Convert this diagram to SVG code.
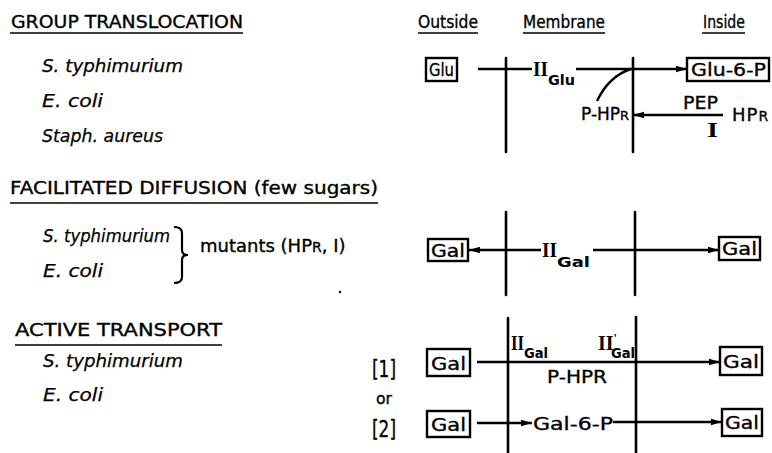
<svg xmlns="http://www.w3.org/2000/svg" width="772" height="453" viewBox="0 0 772 453">
<defs>
<marker id="ah" markerUnits="userSpaceOnUse" markerWidth="12" markerHeight="8" refX="11" refY="4" orient="auto">
<path d="M0,0.8 L11,4 L0,7.2 z" fill="#000"/>
</marker>
<style>
.t{font-family:"DejaVu Sans","Liberation Sans",sans-serif;fill:#000;stroke:#000;stroke-width:0.35}
.h{font-size:18px}
.sp{font-size:17px;font-style:italic;stroke-width:0.25}
.lb{font-size:18px}
.sub{font-size:14px;font-weight:bold;stroke-width:0}
.rn{font-family:"Liberation Serif","DejaVu Serif",serif;font-weight:bold;font-size:20px;fill:#000}
.ul{stroke:#000;stroke-width:1.6;fill:none}
.box{fill:#fff;stroke:#000;stroke-width:2.4}
.mem{stroke:#000;stroke-width:2.6;fill:none;stroke-linecap:round}
.c{stroke:#000;stroke-width:2.4;fill:none}
.ca{stroke:#000;stroke-width:2.4;fill:none;marker-end:url(#ah)}
</style>
</defs>
<rect width="772" height="453" fill="#fff"/>

<!-- left column text -->
<g id="sec-group">
<text class="t h" x="11" y="28" textLength="232" lengthAdjust="spacingAndGlyphs">GROUP  TRANSLOCATION</text>
<line class="ul" x1="10" y1="33" x2="243" y2="33"/>
<text class="t sp" x="42" y="72" textLength="141" lengthAdjust="spacingAndGlyphs">S. typhimurium</text>
<text class="t sp" x="42" y="107" textLength="61" lengthAdjust="spacingAndGlyphs">E. coli</text>
<text class="t sp" x="42" y="142" textLength="121" lengthAdjust="spacingAndGlyphs">Staph. aureus</text>
</g>
<g id="sec-facilitated">
<text class="t h" x="10" y="194" textLength="368" lengthAdjust="spacingAndGlyphs">FACILITATED  DIFFUSION (few sugars)</text>
<line class="ul" x1="10" y1="203" x2="378" y2="203"/>
<text class="t sp" x="43" y="242" textLength="127" lengthAdjust="spacingAndGlyphs">S. typhimurium</text>
<text class="t sp" x="43" y="277" textLength="60" lengthAdjust="spacingAndGlyphs">E. coli</text>
<path d="M174,227 Q182,227 182,233 L182,250 Q182,255 188,255 Q182,255 182,260 L182,277 Q182,283 174,283" fill="none" stroke="#000" stroke-width="2.2"/>
<text class="t lb" x="200" y="252">mutants (HP<tspan font-size="14">R</tspan>, I)</text>
<circle cx="340" cy="292" r="1.2" fill="#000"/>
</g>
<g id="sec-active">
<text class="t h" x="15" y="336" textLength="207" lengthAdjust="spacingAndGlyphs">ACTIVE  TRANSPORT</text>
<line class="ul" x1="15" y1="345" x2="222" y2="345"/>
<text class="t sp" x="43" y="367" textLength="140" lengthAdjust="spacingAndGlyphs">S. typhimurium</text>
<text class="t sp" x="43" y="401" textLength="60" lengthAdjust="spacingAndGlyphs">E. coli</text>
<text class="t" font-size="23" x="372" y="377" textLength="24" lengthAdjust="spacingAndGlyphs" stroke-width="0.8">[1]</text>
<text class="t" font-size="16" x="376" y="404" textLength="16" lengthAdjust="spacingAndGlyphs">or</text>
<text class="t" font-size="23" x="372" y="437" textLength="24" lengthAdjust="spacingAndGlyphs" stroke-width="0.8">[2]</text>
</g>

<!-- column headers -->
<g id="headers">
<text class="t h" x="418" y="28" textLength="60" lengthAdjust="spacingAndGlyphs">Outside</text>
<line class="ul" x1="418" y1="33" x2="478" y2="33"/>
<text class="t h" x="523" y="28" textLength="82" lengthAdjust="spacingAndGlyphs">Membrane</text>
<line class="ul" x1="523" y1="33" x2="605" y2="33"/>
<text class="t h" x="703" y="28" textLength="42" lengthAdjust="spacingAndGlyphs">Inside</text>
<line class="ul" x1="702" y1="33" x2="745" y2="33"/>
</g>

<!-- membranes -->
<g id="membranes">
<line class="mem" x1="506" y1="58" x2="506" y2="152"/>
<line class="mem" x1="633" y1="58" x2="633" y2="152"/>
<line class="mem" x1="506" y1="212" x2="506" y2="295"/>
<line class="mem" x1="635" y1="212" x2="635" y2="295"/>
<line class="mem" x1="508" y1="318" x2="508" y2="453"/>
<line class="mem" x1="636" y1="317" x2="636" y2="453"/>
</g>

<!-- nodes -->
<g id="glu">
<rect class="box" x="426" y="58" width="31" height="23"/>
<text class="t lb" x="429" y="76" textLength="25" lengthAdjust="spacingAndGlyphs">Glu</text>
</g>
<g id="glu6p">
<rect class="box" x="687" y="58" width="82" height="23"/>
<text class="t lb" x="691" y="76" textLength="75" lengthAdjust="spacingAndGlyphs">Glu-6-P</text>
</g>
<g id="iiglu">
<text class="rn" x="533" y="76" textLength="15" lengthAdjust="spacingAndGlyphs">II</text>
<text class="t sub" x="548" y="85" textLength="27" lengthAdjust="spacingAndGlyphs">Glu</text>
</g>
<g id="phpr1">
<text class="t" font-size="17" x="581" y="120">P-HP<tspan font-size="13">R</tspan></text>
</g>
<g id="pep">
<text class="t lb" x="683" y="109" textLength="35" lengthAdjust="spacingAndGlyphs">PEP</text>
<text class="rn" font-size="17" x="707" y="137" textLength="11" lengthAdjust="spacingAndGlyphs">I</text>
</g>
<g id="hpr">
<text class="t lb" x="732" y="121" letter-spacing="1">HP<tspan font-size="14">R</tspan></text>
</g>

<g id="gal-fd-out">
<rect class="box" x="428" y="239" width="40" height="22"/>
<text class="t lb" x="431" y="257" textLength="34" lengthAdjust="spacingAndGlyphs">Gal</text>
</g>
<g id="iigal-fd">
<text class="rn" x="542" y="257" textLength="15" lengthAdjust="spacingAndGlyphs">II</text>
<text class="t sub" x="557" y="267" textLength="33" lengthAdjust="spacingAndGlyphs">Gal</text>
</g>
<g id="gal-fd-in">
<rect class="box" x="719" y="237" width="41" height="23"/>
<text class="t lb" x="722" y="255" textLength="35" lengthAdjust="spacingAndGlyphs">Gal</text>
</g>

<g id="gal-at1-out">
<rect class="box" x="427" y="349" width="43" height="27"/>
<text class="t lb" x="431" y="370" textLength="35" lengthAdjust="spacingAndGlyphs">Gal</text>
</g>
<g id="iigal-at">
<text class="rn" x="511" y="350" textLength="13" lengthAdjust="spacingAndGlyphs">II</text>
<text class="t sub" x="524" y="358" textLength="24" lengthAdjust="spacingAndGlyphs">Gal</text>
</g>
<g id="iigal-prime">
<text class="rn" x="598" y="350">II<tspan font-size="12" dy="-8">'</tspan></text>
<text class="t sub" x="611" y="358" textLength="24" lengthAdjust="spacingAndGlyphs">Gal</text>
</g>
<g id="phpr2">
<text class="t lb" x="547" y="383" textLength="60" lengthAdjust="spacingAndGlyphs">P-HPR</text>
</g>
<g id="gal-at1-in">
<rect class="box" x="720" y="347" width="42" height="28"/>
<text class="t lb" x="723" y="368" textLength="36" lengthAdjust="spacingAndGlyphs">Gal</text>
</g>
<g id="gal-at2-out">
<rect class="box" x="427" y="411" width="43" height="26"/>
<text class="t lb" x="431" y="431" textLength="35" lengthAdjust="spacingAndGlyphs">Gal</text>
</g>
<g id="gal6p">
<text class="t lb" x="533" y="430" textLength="80" lengthAdjust="spacingAndGlyphs">Gal-6-P</text>
</g>
<g id="gal-at2-in">
<rect class="box" x="722" y="409" width="40" height="27"/>
<text class="t lb" x="725" y="429" textLength="34" lengthAdjust="spacingAndGlyphs">Gal</text>
</g>

<!-- connectors -->
<g id="connectors">
<line class="c" x1="478" y1="69" x2="532" y2="69"/>
<line class="ca" x1="576" y1="69" x2="687" y2="69"/>
<path class="c" d="M597,101 Q609,76 631,69"/>
<line class="ca" x1="723" y1="115" x2="633" y2="115"/>

<line class="ca" x1="541" y1="250" x2="469" y2="250"/>
<line class="ca" x1="593" y1="250" x2="719" y2="250"/>

<line class="ca" x1="477" y1="362" x2="720" y2="362"/>
<line class="ca" x1="477" y1="423" x2="532" y2="423"/>
<line class="ca" x1="613" y1="422" x2="722" y2="422"/>
</g>
</svg>
